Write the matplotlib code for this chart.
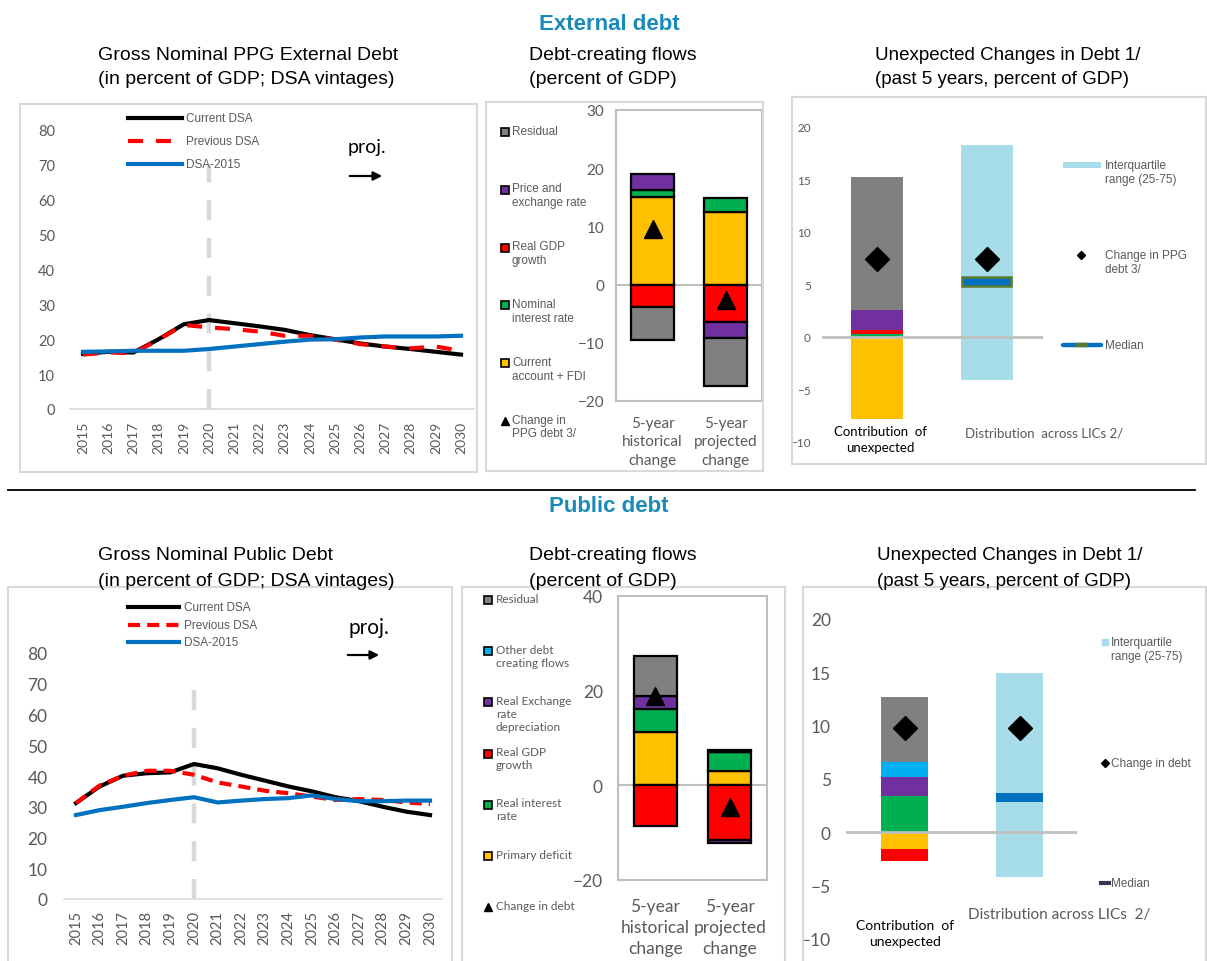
import matplotlib
matplotlib.use("Agg")
import matplotlib.pyplot as plt
from matplotlib.patches import Rectangle, FancyArrowPatch
from matplotlib.lines import Line2D

W, H = 1207, 962
ARIAL = "Liberation Sans"
plt.rcParams["font.family"] = ["Lato", "DejaVu Sans"]
GREY_TXT = "#595959"
TEAL = "#1A8AB8"

# ---------------- data ----------------
years = list(range(2015, 2031))
proj_start = 2020
line_names = ["Current DSA", "Previous DSA", "DSA-2015"]

ext_current  = [15.8, 16.4, 16.2, 20.0, 24.3, 25.5, 24.6, 23.7, 22.7, 21.2, 20.0, 18.8, 17.9, 17.2, 16.4, 15.6]
ext_previous = [15.6, 16.2, 16.0, 19.9, 24.1, 23.4, 22.9, 22.2, 21.0, 21.0, 19.9, 18.6, 17.9, 17.4, 17.9, 16.7]
ext_dsa2015  = [16.4, 16.5, 16.7, 16.7, 16.7, 17.2, 17.9, 18.6, 19.3, 19.9, 20.0, 20.5, 20.8, 20.8, 20.8, 21.0]

pub_current  = [31.2, 36.6, 40.1, 40.9, 41.2, 43.9, 42.5, 40.4, 38.5, 36.6, 35.0, 33.1, 31.8, 30.0, 28.4, 27.3]
pub_previous = [31.2, 36.9, 40.1, 41.7, 41.7, 40.4, 37.9, 36.6, 35.2, 34.4, 33.3, 32.2, 32.5, 32.2, 31.4, 30.9]
pub_dsa2015  = [27.3, 28.9, 30.0, 31.2, 32.2, 33.1, 31.4, 32.0, 32.5, 32.8, 33.7, 32.5, 31.8, 31.8, 32.0, 32.0]

flow_cats = ["5-year\nhistorical\nchange", "5-year\nprojected\nchange"]

# external debt-creating flows (stacking order, bottom series first)
ext_flow_names = ["Current\naccount + FDI", "Nominal\ninterest rate", "Real GDP\ngrowth",
                  "Price and\nexchange rate", "Residual"]
ext_flow_colors = ["#FFC000", "#00B050", "#FF0000", "#7030A0", "#808080"]
ext_flow_hist = [15.0, 1.2, -3.9, 2.8, -5.6]
ext_flow_proj = [12.4, 2.5, -6.5, -2.6, -8.4]
ext_flow_change = [9.5, -2.7]

# public debt-creating flows
pub_flow_names = ["Primary deficit", "Real interest\nrate", "Real GDP\ngrowth",
                  "Real Exchange\nrate\ndepreciation", "Other debt\ncreating flows", "Residual"]
pub_flow_colors = ["#FFC000", "#00B050", "#FF0000", "#7030A0", "#00B0F0", "#808080"]
pub_flow_hist = [11.2, 5.0, -8.5, 2.6, 0.0, 8.6]
pub_flow_proj = [3.0, 4.1, -11.6, -0.5, 0.0, 0.4]
pub_flow_change = [18.9, -4.6]

# unexpected changes
ext_unexp = [-7.8, 0.3, 0.4, 1.9, 12.6]        # same colours as ext flows
ext_unexp_change = 7.4
ext_iqr = (-4.1, 18.3)
ext_median = 5.3

pub_unexp = [-1.6, 3.4, -1.1, 1.8, 1.4, 6.1]   # same colours as pub flows
pub_unexp_change = 9.8
pub_iqr = (-4.2, 14.9)
pub_median = 3.3

# ---------------- helpers ----------------
fig = plt.figure(figsize=(W / 100, H / 100), dpi=100)
fig.patch.set_facecolor("white")


def axbox(l, t, r, b):
    return fig.add_axes([l / W, 1 - b / H, (r - l) / W, (b - t) / H])


def ftext(x, y, s, **kw):
    return fig.text(x / W, 1 - y / H, s, **kw)


def frame(l, t, r, b):
    fig.add_artist(Rectangle((l / W, 1 - b / H), (r - l) / W, (b - t) / H,
                             transform=fig.transFigure, fill=False,
                             ec="#D9D9D9", lw=1.5))


def fline(x0, x1, y, **kw):
    fig.add_artist(Line2D([x0 / W, x1 / W], [1 - y / H, 1 - y / H],
                          transform=fig.transFigure, **kw))


def fmark(x, y, **kw):
    fig.add_artist(Line2D([x / W], [1 - y / H], transform=fig.transFigure,
                          ls="none", **kw))


def line_panel(box, cur, prev, old, tick_fs, year_fs, tick_pad, year_pad, dash_prev):
    ax = axbox(*box)
    ax.set_xlim(2014.5, 2030.5)
    ax.set_ylim(0, 80)
    ax.vlines(proj_start, 0, 70, colors="#D9D9D9", lw=3.2, linestyles=(0, (4.5, 4)), zorder=1)
    ax.plot(years, cur, color="black", lw=3, zorder=3)
    ax.plot(years, prev, color="#FF0000", lw=3, ls=(0, dash_prev), zorder=4)
    ax.plot(years, old, color="#0070C0", lw=3, zorder=5)
    for s in ["top", "right", "left"]:
        ax.spines[s].set_visible(False)
    ax.spines["bottom"].set_color("#D9D9D9")
    ax.spines["bottom"].set_linewidth(1.2)
    ax.set_yticks(range(0, 81, 10))
    ax.set_xticks(years)
    ax.set_xticklabels([str(y) for y in years], rotation=90)
    ax.tick_params(axis="y", length=0, labelsize=tick_fs, labelcolor=GREY_TXT, pad=tick_pad)
    ax.tick_params(axis="x", length=0, labelsize=year_fs, labelcolor=GREY_TXT, pad=year_pad)
    return ax


def line_legend(x0, x1, xt, ys, dash_prev):
    styles = [dict(color="black"), dict(color="#FF0000", ls=(0, dash_prev)), dict(color="#0070C0")]
    for name, y, st in zip(line_names, ys, styles):
        fline(x0, x1, y, lw=3, **st)
        ftext(xt, y, name, family=ARIAL, fontsize=8.5, color=GREY_TXT, va="center")


def proj_label(x, y, ax0, ax1, ay, fs):
    ftext(x, y, "proj.", fontsize=fs, color="black", va="center")
    fig.add_artist(FancyArrowPatch((ax0 / W, 1 - ay / H), (ax1 / W, 1 - ay / H),
                                   transform=fig.transFigure, arrowstyle="-|>",
                                   mutation_scale=13, lw=1.6, color="black"))


def flow_panel(box, ylim, ystep, series, colors, change, tick_fs, cat_fs, ypad, xpad):
    ax = axbox(*box)
    ax.set_xlim(-0.5, 1.5)
    ax.set_ylim(*ylim)
    for i, vals in enumerate(series):
        pos = neg = 0.0
        for v, c in zip(vals, colors):
            base = pos if v >= 0 else neg
            ax.bar(i, v, 0.58, bottom=base, color=c, edgecolor="black", lw=1.6, zorder=3)
            if v >= 0:
                pos += v
            else:
                neg += v
    ax.plot(range(len(change)), change, ls="none", marker="^", ms=13, color="black", zorder=5)
    ax.axhline(0, color="#BFBFBF", lw=1.5, zorder=1)
    for s in ax.spines.values():
        s.set_color("#BFBFBF")
        s.set_linewidth(1.5)
    ax.set_yticks(range(ylim[0], ylim[1] + 1, ystep))
    ax.set_xticks(range(len(flow_cats)))
    ax.set_xticklabels(flow_cats, linespacing=1.38)
    ax.tick_params(axis="y", length=0, labelsize=tick_fs, labelcolor=GREY_TXT, pad=ypad)
    ax.tick_params(axis="x", length=0, labelsize=cat_fs, labelcolor=GREY_TXT, pad=xpad)
    return ax


def flow_legend(xm, xt, y0, pitch, names, colors, change_label, fs, fam):
    items = list(zip(names, colors))[::-1]
    for k, (name, c) in enumerate(items):
        y = y0 + k * pitch
        fmark(xm, y, marker="s", ms=5.5, mfc=c, mec="black", mew=1.2)
        ftext(xt, y - 0.62 * fs * 1.389, name, family=fam, fontsize=fs, color=GREY_TXT,
              va="top", linespacing=1.2)
    y = y0 + len(items) * pitch
    fmark(xm, y, marker="^", ms=6, color="black")
    ftext(xt, y - 0.62 * fs * 1.389, change_label, family=fam, fontsize=fs, color=GREY_TXT,
          va="top", linespacing=1.2)


def unexp_panel(box, xlim, contrib, colors, change, iqr, median, width, med_edge, tick_fs, ypad):
    ax = axbox(*box)
    ax.set_xlim(*xlim)
    ax.set_ylim(-10, 20)
    pos = neg = 0.0
    for v, c in zip(contrib, colors):
        base = pos if v >= 0 else neg
        ax.bar(0, v, width, bottom=base, color=c, lw=0, zorder=2)
        if v >= 0:
            pos += v
        else:
            neg += v
    ax.bar(1, iqr[1] - iqr[0], width, bottom=iqr[0], color="#A6DDE8", lw=0, zorder=2)
    ax.bar(1, 0.85, width if med_edge is None else width * 0.95, bottom=median - 0.42,
           color="#0070C0", edgecolor=med_edge if med_edge else "#0070C0",
           lw=1.8 if med_edge else 0, zorder=3)
    ax.axhline(0, xmin=0, xmax=1, color="#BFBFBF", lw=2, zorder=4)
    ax.plot([0, 1], [change, change], ls="none", marker="D", ms=12, color="black", zorder=5)
    for s in ax.spines.values():
        s.set_visible(False)
    ax.set_yticks(range(-10, 21, 5))
    ax.set_xticks([])
    ax.tick_params(axis="y", length=0, labelsize=tick_fs, labelcolor=GREY_TXT, pad=ypad)
    return ax


# ---------------- section titles & separator ----------------
ftext(609, 24, "External debt", family=ARIAL, fontsize=16, weight="bold", color=TEAL,
      ha="center", va="center")
ftext(609, 507, "Public debt", family=ARIAL, fontsize=16, weight="bold", color=TEAL,
      ha="center", va="center")
fline(8, 1195, 491, color="black", lw=1.3)

for (x, y0, fs, t1, t2) in [(98, 55, 14, "Gross Nominal PPG External Debt", "(in percent of GDP; DSA vintages)"),
                            (529, 55, 14, "Debt-creating flows", "(percent of GDP)"),
                            (875, 55, 13.5, "Unexpected Changes in Debt 1/", "(past 5 years, percent of GDP)"),
                            (98, 556, 14, "Gross Nominal Public Debt", "(in percent of GDP; DSA vintages)"),
                            (529, 556, 14, "Debt-creating flows", "(percent of GDP)"),
                            (877, 556, 13.5, "Unexpected Changes in Debt 1/", "(past 5 years, percent of GDP)")]:
    ftext(x, y0, t1, family=ARIAL, fontsize=fs, color="black", va="center")
    ftext(x, y0 + 25, t2, family=ARIAL, fontsize=fs, color="black", va="center")

# ---------------- frames ----------------
frame(20, 105, 477, 473)
frame(486, 103, 763, 472)
frame(792, 98, 1206, 465)
frame(8, 588, 452, 990)
frame(462, 588, 785, 990)
frame(803, 588, 1206, 990)

# ---------------- top row ----------------
line_panel((70.4, 131, 473.6, 410), ext_current, ext_previous, ext_dsa2015,
           10.5, 10, 11, 8.5, (3.6, 3.1))
line_legend(128, 182, 186, [119, 142, 165], (3.6, 3.1))
proj_label(348, 148, 347, 385, 177, 14)

flow_panel((616, 111, 762, 402), (-20, 30), 10, [ext_flow_hist, ext_flow_proj],
           ext_flow_colors, ext_flow_change, 11, 11, 8.5, 11)
flow_legend(505, 512, 133, 57.8, ext_flow_names, ext_flow_colors, "Change in\nPPG debt 3/",
            8.5, ARIAL)

unexp_panel((822, 128, 1043, 443), (-0.5, 1.51), ext_unexp, ext_flow_colors,
            ext_unexp_change, ext_iqr, ext_median, 0.47, "#5B7A2E", 8.5, 8)
ftext(880, 440, "Contribution  of\nunexpected", fontsize=9.5, color="black",
      ha="center", va="center", linespacing=1.35)
ftext(965, 433, "Distribution  across LICs 2/", fontsize=9.5, color=GREY_TXT, va="center")
fig.add_artist(Rectangle((1063 / W, 1 - 169 / H), 38 / W, 6 / H, transform=fig.transFigure,
                         color="#A6DDE8", lw=0))
ftext(1105, 160, "Interquartile\nrange (25-75)", family=ARIAL, fontsize=8.5, color=GREY_TXT,
      va="top", linespacing=1.2)
fmark(1081, 256, marker="D", ms=4, color="black")
ftext(1105, 250, "Change in PPG\ndebt 3/", family=ARIAL, fontsize=8.5, color=GREY_TXT,
      va="top", linespacing=1.2)
fline(1063, 1101, 346, color="#0070C0", lw=3.2, solid_capstyle="round")
fline(1078, 1085, 346, color="#5B7A2E", lw=3.2)
ftext(1105, 346, "Median", family=ARIAL, fontsize=8.5, color=GREY_TXT, va="center")

# ---------------- bottom row ----------------
line_panel((64.2, 654, 441.8, 900), pub_current, pub_previous, pub_dsa2015,
           12.5, 10.5, 12, 8, (2.9, 1.7))
line_legend(128, 179, 184, [608, 626, 643], (2.9, 1.7))
proj_label(348, 628, 345, 382, 656, 15)

flow_panel((618, 597, 767, 881), (-20, 40), 20, [pub_flow_hist, pub_flow_proj],
           pub_flow_colors, pub_flow_change, 12.5, 12.5, 11, 13)
flow_legend(488, 496, 601, 51.2, pub_flow_names, pub_flow_colors, "Change in debt", 8.5, "Lato")

unexp_panel((846, 620, 1077, 940), (-0.509, 1.5), pub_unexp, pub_flow_colors,
            pub_unexp_change, pub_iqr, pub_median, 0.41, None, 12.5, 11)
ftext(905, 934, "Contribution  of\nunexpected", fontsize=10, color="black",
      ha="center", va="center", linespacing=1.35)
ftext(968, 915, "Distribution across LICs  2/", fontsize=11, color=GREY_TXT, va="center")
fmark(1105, 643, marker="s", ms=5, color="#A6DDE8")
ftext(1111, 637, "Interquartile\nrange (25-75)", family=ARIAL, fontsize=8.5, color=GREY_TXT,
      va="top", linespacing=1.2)
fmark(1105, 764, marker="D", ms=4, color="black")
ftext(1111, 764, "Change in debt", family=ARIAL, fontsize=8.5, color=GREY_TXT, va="center")
fline(1101, 1109, 884, color="#403152", lw=3)
ftext(1111, 884, "Median", family=ARIAL, fontsize=8.5, color=GREY_TXT, va="center")

fig.savefig("out.png", dpi=100, facecolor="white")
